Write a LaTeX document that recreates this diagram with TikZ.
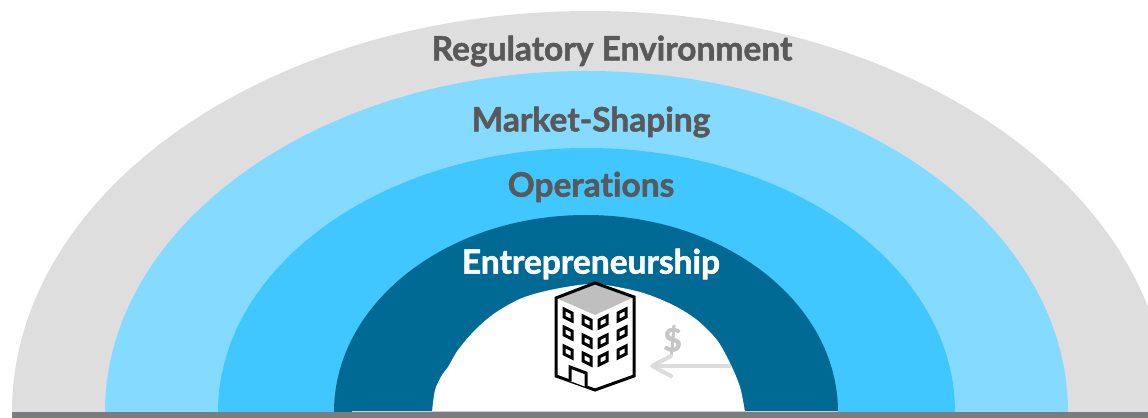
\documentclass[tikz,border=0pt]{standalone}
\usepackage{fontspec}
\setmainfont{Lato}[Ligatures=NoCommon,BoldFeatures={FakeBold=1.6}]
\usetikzlibrary{arrows.meta}
\definecolor{ringgray}{HTML}{DEDEDE}
\definecolor{ringlight}{HTML}{84DBFF}
\definecolor{ringmid}{HTML}{40C7FF}
\definecolor{ringdark}{HTML}{006A94}
\definecolor{basecol}{HTML}{7A7C80}
\definecolor{labelcol}{HTML}{595959}
\definecolor{flowcol}{HTML}{DCDCDC}
\tikzset{
  ringlabel/.style={font=\fontsize{33.5bp}{38bp}\selectfont\bfseries,text=labelcol,inner sep=0pt},
  window/.style={draw=black,line width=3bp,fill=white,line join=miter},
  outline/.style={draw=black,line width=3bp,line join=miter},
}
\begin{document}
\begin{tikzpicture}[>={Straight Barb[length=19bp,width=20bp,round]},line join=bevel]
\useasboundingbox (0bp,0bp) rectangle (1148bp,418bp);
\clip (0bp,0bp) rectangle (1148bp,418bp);

% Rings
\fill [ringgray] (12bp,6bp) arc [start angle=180,end angle=0,x radius=578bp,y radius=401bp] -- cycle;
\fill [ringlight] (105bp,6bp) arc [start angle=180,end angle=0,x radius=481.5bp,y radius=341bp] -- cycle;
\fill [ringmid] (218bp,6bp) arc [start angle=180,end angle=0,x radius=368.5bp,y radius=264bp] -- cycle;
\fill [ringdark] (334bp,6bp) arc [start angle=180,end angle=0,x radius=252bp,y radius=197bp] -- cycle;
\fill [white] plot [smooth,tension=0.5] coordinates {(432bp,6bp) (435bp,28bp) (442bp,43bp) (448bp,51bp) (458bp,68bp) (475bp,88bp) (495bp,105bp) (522bp,120bp) (555bp,129bp) (595bp,134bp) (640bp,126bp) (673bp,113bp) (697bp,98bp) (717bp,78bp) (730bp,55bp) (740bp,31bp) (745bp,6bp)} -- cycle;

% Base
\draw [black!20,line width=1bp] (352bp,6.5bp) -- (838bp,6.5bp);
\fill [basecol] (12bp,0bp) rectangle (1148bp,6bp);

% Node: labels
\node [ringlabel] (regulatory) at (612bp,367bp) {Regulatory Environment};
\node [ringlabel] (market) at (591bp,296bp) {Market-Shaping};
\node [ringlabel] (operations) at (591bp,231bp) {Operations};
\node [ringlabel,text=white] (entrepreneurship) at (591bp,154bp) {Entrepreneurship};

% Building
\begin{scope}
  \fill [white] (556bp,120bp) -- (556bp,42bp) -- (595bp,28bp) -- (634bp,42bp) -- (634bp,121bp) -- (595bp,103bp) -- cycle;
  \fill [black!25] (556bp,120bp) -- (595bp,135bp) -- (634bp,121bp) -- (595bp,103bp) -- cycle;
  \draw [outline] (556bp,120bp) -- (595bp,135bp) -- (634bp,121bp) -- (634bp,42bp) -- (595bp,28bp) -- (556bp,42bp) -- cycle;
  \foreach \wx/\wy in {568/103,568/85,568/66,587/96,587/77,587/59}
    \draw [window] (\wx bp-4bp,\wy bp-2bp) -- (\wx bp+4bp,\wy bp-6bp) -- (\wx bp+4bp,\wy bp+2bp) -- (\wx bp-4bp,\wy bp+6bp) -- cycle;
  \foreach \wx/\wy in {603/96,603/77,603/59,622/103,622/85,622/66}
    \draw [window] (\wx bp-4bp,\wy bp-6bp) -- (\wx bp+4bp,\wy bp-2bp) -- (\wx bp+4bp,\wy bp+6bp) -- (\wx bp-4bp,\wy bp+2bp) -- cycle;
  \draw [window] (570bp,37bp) -- (570bp,51bp) -- (586bp,45bp) -- (586bp,31bp);
\end{scope}

% Node: dollar
\node [font=\fontsize{32bp}{36bp}\selectfont\bfseries,text=flowcol!90!black,inner sep=0pt] (dollar) at (672.5bp,78bp) {\$};

% Edge: outside -> building
\coordinate (flowstart) at (731bp,52bp);
\coordinate (flowend) at (650bp,52bp);
\draw [->,flowcol,line width=4bp] (flowstart) -- (flowend);

\end{tikzpicture}
\end{document}
